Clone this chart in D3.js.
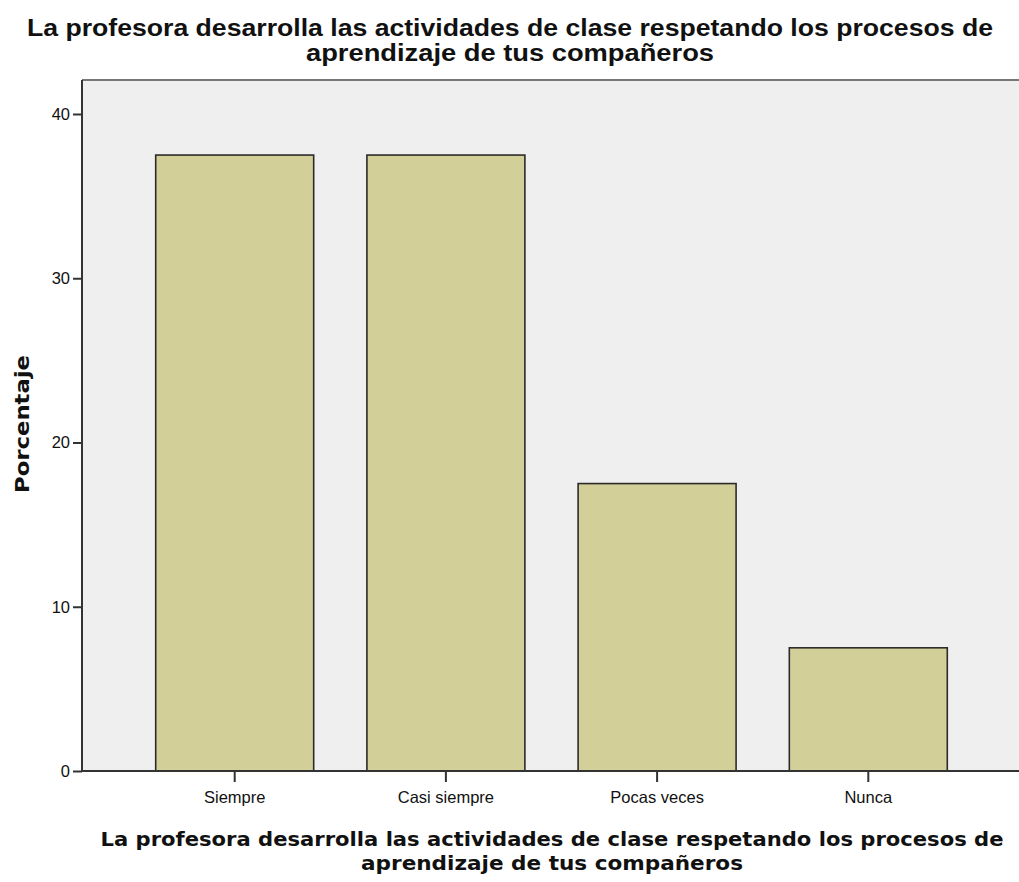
<!DOCTYPE html>
<html>
<head>
<meta charset="utf-8">
<script src="https://cdn.jsdelivr.net/npm/d3@7"></script>
<style>
  body { margin: 0; background: #fff; }
</style>
</head>
<body>
<div id="chart"></div>
<script>
var categories = ['Siempre', 'Casi siempre', 'Pocas veces', 'Nunca'];
var percents = [37.5, 37.5, 17.5, 7.5];
var yTicks = [0, 10, 20, 30, 40];
var titleLines = ['La profesora desarrolla las actividades de clase respetando los procesos de',
                  'aprendizaje de tus compañeros'];
var yLabel = 'Porcentaje';

var W = 1019, H = 882;
var margins = { top: 80, left: 82, right: -2, bottom: 111 };
var width = W - margins.left - margins.right;
var height = H - margins.top - margins.bottom;

var svg = d3.select('#chart').append('svg')
        .attr('width', W)
        .attr('height', H);

var xScale = d3.scaleBand()
        .domain(categories)
        .range([0, width])
        .paddingInner(0.252)
        .paddingOuter(0.349);
var yScale = d3.scaleLinear()
        .domain([0, 40])
        .range([height, 34]);   // 40 sits a bit under the frame top

var g = svg.append('g')
        .attr('transform', 'translate(' + margins.left + ',' + margins.top + ')');

// plot background
g.append('rect')
        .attr('width', width)
        .attr('height', height)
        .attr('fill', '#efefef');
// frame top
g.append('line')
        .attr('x1', 0).attr('x2', width)
        .attr('y1', 0).attr('y2', 0)
        .attr('stroke', '#777')
        .attr('stroke-width', 2);

// bars
g.selectAll('rect.bar')
        .data(percents)
        .enter()
        .append('rect')
        .classed('bar', true)
        .attr('x', function(d, i) { return xScale(categories[i]); })
        .attr('y', function(d) { return yScale(d); })
        .attr('width', xScale.bandwidth())
        .attr('height', function(d) { return yScale(0) - yScale(d); })
        .attr('fill', '#d3cf98')
        .attr('stroke', '#2b2b2b')
        .attr('stroke-width', 1.6);

// axes
var yAxis = d3.axisLeft(yScale).tickValues(yTicks).tickSize(9).tickPadding(3);
var yGuide = g.append('g').call(yAxis);
var xAxis = d3.axisBottom(xScale).tickSize(11).tickPadding(9);
var xGuide = g.append('g')
        .attr('transform', 'translate(0,' + height + ')')
        .call(xAxis);

[yGuide, xGuide].forEach(function(ax) {
        ax.select('.domain').attr('stroke', '#333').attr('stroke-width', 2);
        ax.selectAll('.tick line').attr('stroke', '#333').attr('stroke-width', 2);
        ax.selectAll('.tick text')
                .attr('fill', '#111')
                .style('font-family', '"Liberation Sans", Arial, sans-serif')
                .style('font-size', '16.5px');
});
yGuide.select('.domain').attr('d', 'M0,0V' + height);
xGuide.select('.domain').attr('d', 'M0,0H' + width);

// chart title
var titleSizes = [966, 408];
titleLines.forEach(function(s, i) {
        svg.append('text')
                .attr('x', 510)
                .attr('y', 36 + i * 25)
                .attr('text-anchor', 'middle')
                .attr('textLength', titleSizes[i])
                .attr('lengthAdjust', 'spacingAndGlyphs')
                .style('font-family', '"Liberation Sans", Arial, sans-serif')
                .style('font-weight', 'bold')
                .style('font-size', '23.5px')
                .attr('fill', '#111')
                .text(s);
});

// x axis title
var xtSizes = [903, 382];
titleLines.forEach(function(s, i) {
        svg.append('text')
                .attr('x', 552)
                .attr('y', 846 + i * 24)
                .attr('text-anchor', 'middle')
                .attr('textLength', xtSizes[i])
                .attr('lengthAdjust', 'spacingAndGlyphs')
                .style('font-family', '"DejaVu Sans", sans-serif')
                .style('font-weight', 'bold')
                .style('font-size', '20px')
                .attr('fill', '#111')
                .text(s);
});

// y axis title
svg.append('text')
        .attr('transform', 'translate(29,424) rotate(-90)')
        .attr('text-anchor', 'middle')
        .attr('textLength', 138)
        .attr('lengthAdjust', 'spacingAndGlyphs')
        .style('font-family', '"DejaVu Sans", sans-serif')
        .style('font-weight', 'bold')
        .style('font-size', '20px')
        .attr('fill', '#111')
        .text(yLabel);
</script>
</body>
</html>
